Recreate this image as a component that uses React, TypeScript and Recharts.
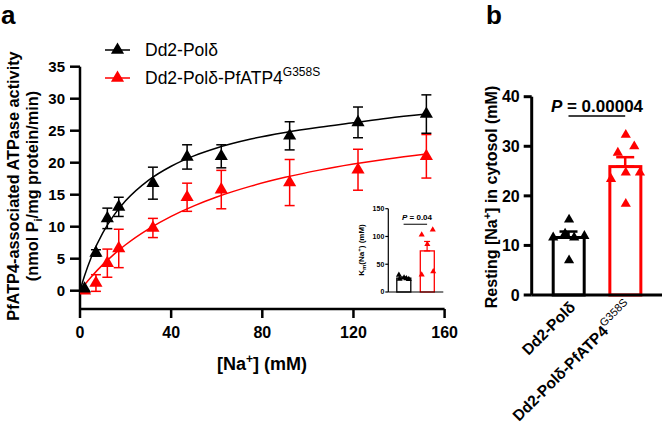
import React from 'react';
import {
  ComposedChart, Line, Scatter, Bar, XAxis, YAxis, ZAxis, ErrorBar, ReferenceLine, Symbols,
} from 'recharts';

const FONT = "'Liberation Sans', Arial, Helvetica, sans-serif";

// Panel a: ATPase activity vs [Na+]
const naConc = [2, 7, 12, 17, 32, 47, 62, 92, 122, 152];
const polMean = [0.3, 5.9, 11.3, 13.1, 16.8, 20.9, 21.0, 24.2, 26.3, 27.6];
const polSem = [0, 0.5, 1.6, 1.5, 2.5, 1.9, 1.8, 2.2, 2.4, 3.0];
const mutMean = [0, 1.2, 4.3, 6.6, 9.8, 14.6, 15.8, 16.9, 18.9, 21.0];
const mutSem = [0, 1.3, 2.2, 3.0, 1.5, 2.2, 3.0, 3.6, 3.2, 3.4];

// fitted curves
const fitX = [0, 2, 5, 10, 15, 20, 30, 40, 50, 60, 75, 90, 105, 120, 135, 152];
const polFit = [0, 2.34, 5.27, 9.03, 11.85, 14.04, 17.24, 19.45, 21.07, 22.31, 23.7, 24.73, 25.55, 26.25, 26.95, 27.6];
const mutFit = [0, 0.91, 2.18, 4.07, 5.72, 7.18, 9.63, 11.62, 13.26, 14.64, 16.34, 17.71, 18.84, 19.78, 20.59, 21.36];

const xTicksA = [0, 40, 80, 120, 160];
const yTicksA = [0, 5, 10, 15, 20, 25, 30, 35];

// Inset: Km(Na+)
const kmMean = [25, 74];
const kmSemUp = [2, 17];
const kmPolJitter = [-0.2, -0.17, 0.02, 0.12, 0.22];
const kmPolVals = [30.5, 23.5, 25.5, 24.5, 23];
const kmMutJitter = [-0.23, 0.24, 0.01, -0.23, 0.26];
const kmMutVals = [103, 112, 86, 31, 37];
const yTicksInset = [0, 50, 100, 150];

// Panel b: resting cytosolic [Na+]
const groups = ['Dd2-Polδ', 'Dd2-Polδ-PfATP4'];
const groupSup = ['', 'G358S'];
const naMean = [11.6, 25.9];
const naSemUp = [1.2, 1.9];
const naPolJitter = [-0.27, -0.06, 0.01, 0.10, 0.28, 0.01];
const naPolVals = [11.6, 12.4, 15.2, 11.6, 11.9, 7.0];
const naMutJitter = [0.01, 0.16, -0.13, 0.01, -0.25, 0.26, 0.01];
const naMutVals = [32.3, 30.0, 28.7, 24.7, 23.4, 24.7, 18.4];
const yTicksB = [0, 10, 20, 30, 40];

const polPts = naConc.map((x, i) => ({ x, y: polMean[i], err: polSem[i] }));
const mutPts = naConc.map((x, i) => ({ x, y: mutMean[i], err: mutSem[i] }));
const polCurve = fitX.map((x, i) => ({ x, y: polFit[i] }));
const mutCurve = fitX.map((x, i) => ({ x, y: mutFit[i] }));

const kmBars = kmMean.map((m, i) => ({ g: i, y: m }));
const kmErr = kmMean.map((m, i) => [{ x: i, y: m, err: [0, kmSemUp[i]] }]);
const kmPolPts = kmPolVals.map((v, i) => ({ x: 0 + kmPolJitter[i], y: v }));
const kmMutPts = kmMutVals.map((v, i) => ({ x: 1 + kmMutJitter[i], y: v }));

const naBars = naMean.map((m, i) => ({ g: i, y: m }));
const naErr = naMean.map((m, i) => [{ x: i, y: m, err: [0, naSemUp[i]] }]);
const naPolPts = naPolVals.map((v, i) => ({ x: 0 + naPolJitter[i], y: v }));
const naMutPts = naMutVals.map((v, i) => ({ x: 1 + naMutJitter[i], y: v }));

const RED = '#ff0000';
const tickA = { fill: '#000', fontSize: 15, fontWeight: 700, fontFamily: FONT };
const tickAx = { fill: '#000', fontSize: 16, fontWeight: 700, fontFamily: FONT };
const NoShape = () => <g />;

const BTick = (props: any) => {
  const { x, y, payload } = props;
  const i = payload.value as number;
  return (
    <g transform={`translate(${x + 8},${y + 5})`}>
      <text transform="rotate(-45)" textAnchor="end" fontFamily={FONT} fontWeight={700} fontSize={15.5} fill="#000">
        <tspan>{groups[i]}</tspan>
        {groupSup[i] ? <tspan dy={-7} fontSize={11} fontWeight={400}>{groupSup[i]}</tspan> : null}
      </text>
    </g>
  );
};

const barShape = (sw: number) => (p: any) => (
  <rect x={p.x} y={p.y} width={p.width} height={p.height} fill="#fff"
    stroke={p.index === 0 ? '#000' : RED} strokeWidth={sw} />
);

export default function App() {
  return (
    <div style={{ position: 'absolute', left: 0, top: 0, width: 666, height: 430, background: '#fff', fontFamily: FONT }}>
      {/* Panel a */}
      <div style={{ position: 'absolute', left: 0, top: 0 }}>
        <ComposedChart width={470} height={430} margin={{ top: 66.7, left: 20, right: 25.4, bottom: 91 }}>
          <XAxis type="number" dataKey="x" domain={[0, 160]} ticks={xTicksA} height={30}
            axisLine={{ stroke: '#000', strokeWidth: 2.5 }} tickLine={{ stroke: '#000', strokeWidth: 2.5 }}
            tickSize={9} tickMargin={9} tick={tickAx} allowDataOverflow />
          <YAxis type="number" dataKey="y" domain={[-2.86, 35]} ticks={yTicksA} width={60}
            axisLine={{ stroke: '#000', strokeWidth: 2.5 }} tickLine={{ stroke: '#000', strokeWidth: 2.5 }}
            tickSize={10} tickMargin={5} tick={tickA} allowDataOverflow />
          <ZAxis range={[75, 75]} />
          <Line data={mutCurve} dataKey="y" type="monotone" stroke={RED} strokeWidth={1.5} dot={false} isAnimationActive={false} />
          <Line data={polCurve} dataKey="y" type="monotone" stroke="#000" strokeWidth={1.5} dot={false} isAnimationActive={false} />
          <Scatter data={mutPts} dataKey="y" fill={RED} shape="triangle" isAnimationActive={false}>
            <ErrorBar dataKey="err" direction="y" width={5} stroke={RED} strokeWidth={1.5} />
          </Scatter>
          <Scatter data={polPts} dataKey="y" fill="#000" shape="triangle" isAnimationActive={false}>
            <ErrorBar dataKey="err" direction="y" width={5} stroke="#000" strokeWidth={1.5} />
          </Scatter>
        </ComposedChart>
      </div>

      {/* Inset */}
      <div style={{ position: 'absolute', left: 340, top: 180 }}>
        <ComposedChart width={110} height={120} data={kmBars} margin={{ top: 28.7, left: 18.3, right: 6.7, bottom: 0 }}>
          <XAxis xAxisId="cat" type="category" dataKey="g" hide height={0} padding={{ left: 3.5, right: 4.5 }} />
          <XAxis xAxisId="num" type="number" dataKey="x" domain={[-0.651, 1.689]} ticks={[]} tick={false} tickLine={false} height={8}
            axisLine={{ stroke: '#000', strokeWidth: 1.2 }} allowDataOverflow />
          <YAxis type="number" domain={[0, 150]} ticks={yTicksInset} width={30}
            axisLine={{ stroke: '#000', strokeWidth: 1.2 }} tickLine={{ stroke: '#000', strokeWidth: 1.2 }}
            tickSize={3} tickMargin={1} tick={{ fill: '#000', fontSize: 7, fontWeight: 700, fontFamily: FONT }} />
          <ZAxis range={[16, 16]} />
          <Bar xAxisId="cat" dataKey="y" barSize={14} fill="#fff" isAnimationActive={false} shape={barShape(1.3)} />
          <Scatter xAxisId="num" data={kmErr[0]} dataKey="y" shape={NoShape} isAnimationActive={false}>
            <ErrorBar dataKey="err" direction="y" width={3} stroke="#000" strokeWidth={1.2} />
          </Scatter>
          <Scatter xAxisId="num" data={kmErr[1]} dataKey="y" shape={NoShape} isAnimationActive={false}>
            <ErrorBar dataKey="err" direction="y" width={3} stroke={RED} strokeWidth={1.2} />
          </Scatter>
          <Scatter xAxisId="num" data={kmPolPts} dataKey="y" fill="#000" shape="triangle" isAnimationActive={false} />
          <Scatter xAxisId="num" data={kmMutPts} dataKey="y" fill={RED} shape="triangle" isAnimationActive={false} />
          <ReferenceLine xAxisId="num" segment={[{ x: 0, y: 122 }, { x: 1, y: 122 }]} stroke="#000" strokeWidth={1} />
        </ComposedChart>
      </div>

      {/* Panel b */}
      <div style={{ position: 'absolute', left: 470, top: 0 }}>
        <ComposedChart width={196} height={430} data={naBars} margin={{ top: 96.7, left: 1.7, right: 4, bottom: 105 }}>
          <XAxis xAxisId="cat" type="category" dataKey="g" hide height={0} padding={{ left: 8.5, right: 8.5 }} />
          <XAxis xAxisId="num" type="number" dataKey="x" domain={[-0.649, 1.649]} ticks={[0, 1]} height={30}
            axisLine={{ stroke: '#000', strokeWidth: 3 }} tickLine={false} tick={<BTick />} interval={0} allowDataOverflow />
          <YAxis type="number" domain={[0, 40]} ticks={yTicksB} width={60}
            axisLine={{ stroke: '#000', strokeWidth: 3 }} tickLine={{ stroke: '#000', strokeWidth: 3 }}
            tickSize={8} tickMargin={4} tick={tickAx} />
          <ZAxis range={[45, 45]} />
          <Bar xAxisId="cat" dataKey="y" barSize={31} fill="#fff" isAnimationActive={false} shape={barShape(3)} />
          <Scatter xAxisId="num" data={naErr[0]} dataKey="y" shape={NoShape} isAnimationActive={false}>
            <ErrorBar dataKey="err" direction="y" width={9} stroke="#000" strokeWidth={2.5} />
          </Scatter>
          <Scatter xAxisId="num" data={naErr[1]} dataKey="y" shape={NoShape} isAnimationActive={false}>
            <ErrorBar dataKey="err" direction="y" width={9} stroke={RED} strokeWidth={2.5} />
          </Scatter>
          <Scatter xAxisId="num" data={naPolPts} dataKey="y" fill="#000" shape="triangle" isAnimationActive={false} />
          <Scatter xAxisId="num" data={naMutPts} dataKey="y" fill={RED} shape="triangle" isAnimationActive={false} />
          <ReferenceLine xAxisId="num" segment={[{ x: 0, y: 36.1 }, { x: 1, y: 36.1 }]} stroke="#000" strokeWidth={1.5} />
        </ComposedChart>
      </div>

      {/* Text overlay */}
      <svg width={666} height={430} style={{ position: 'absolute', left: 0, top: 0, pointerEvents: 'none' }}
        fontFamily={FONT}>
        <text x={1} y={24} fontSize={26} fontWeight={700}>a</text>
        <text x={486} y={24} fontSize={26} fontWeight={700}>b</text>

        {/* legend */}
        <line x1={105} y1={50} x2={130} y2={50} stroke="#000" strokeWidth={1.5} />
        <Symbols cx={117.5} cy={50} type="triangle" size={75} fill="#000" />
        <text x={145} y={56} fontSize={17.5}>Dd2-Polδ</text>
        <line x1={105} y1={78} x2={130} y2={78} stroke={RED} strokeWidth={1.5} />
        <Symbols cx={117.5} cy={78} type="triangle" size={75} fill={RED} />
        <text x={145} y={84} fontSize={17.5}>Dd2-Polδ-PfATP4<tspan dy={-8} fontSize={12}>G358S</tspan></text>

        {/* panel a axis titles */}
        <text transform="translate(19,186) rotate(-90)" textAnchor="middle" fontSize={16.3} fontWeight={700}>
          PfATP4-associated ATPase activity
        </text>
        <text transform="translate(37.5,186) rotate(-90)" textAnchor="middle" fontSize={16.3} fontWeight={700}>
          (nmol P<tspan dy={4} fontSize={11}>i</tspan><tspan dy={-4}>/mg protein/min)</tspan>
        </text>
        <text x={262} y={370} textAnchor="middle" fontSize={18} fontWeight={700}>
          [Na<tspan dy={-7} fontSize={12}>+</tspan><tspan dy={7}>] (mM)</tspan>
        </text>

        {/* inset titles */}
        <text transform="translate(364,250) rotate(-90)" textAnchor="middle" fontSize={8} fontWeight={700}>
          K<tspan dy={2} fontSize={6}>m</tspan><tspan dy={-2}>(Na</tspan><tspan dy={-3} fontSize={6}>+</tspan><tspan dy={3}>) (mM)</tspan>
        </text>
        <text x={417} y={220} textAnchor="middle" fontSize={8} fontWeight={700}>
          <tspan fontStyle="italic">P</tspan> = 0.04
        </text>

        {/* panel b titles */}
        <text transform="translate(497,197) rotate(-90)" textAnchor="middle" fontSize={16} fontWeight={700}>
          Resting [Na<tspan dy={-6} fontSize={11}>+</tspan><tspan dy={6}>] in cytosol (mM)</tspan>
        </text>
        <text x={597} y={112} textAnchor="middle" fontSize={17} fontWeight={700}>
          <tspan fontStyle="italic">P</tspan> = 0.00004
        </text>
      </svg>
    </div>
  );
}
